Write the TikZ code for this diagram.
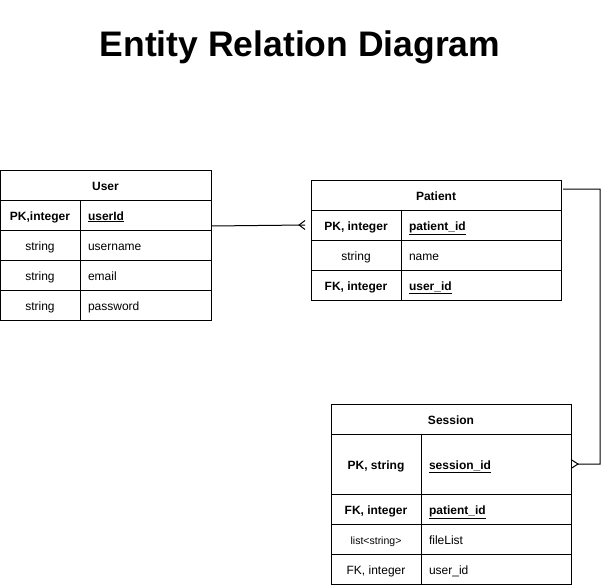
\documentclass[tikz,border=0pt]{standalone}
\usepackage{fontspec}
\setmainfont{Liberation Sans}
\usetikzlibrary{calc}
\begin{document}
\begin{tikzpicture}[x=1bp,y=-1bp,line width=1bp,
  cellbase/.style={draw=black,anchor=north west,inner ysep=0pt,outer sep=0pt,
    minimum height=30bp,text height=12bp,text depth=2bp,font=\fontsize{12bp}{14bp}\selectfont},
  headcell/.style={cellbase,inner xsep=0pt,align=center,font=\fontsize{12bp}{14bp}\selectfont\bfseries},
  keycell/.style={cellbase,inner xsep=0pt,align=center},
  namecell/.style={cellbase,inner xsep=8bp,align=left},
  conn/.style={draw=black,line width=1bp}]
\useasboundingbox (0,0) rectangle (609,585);

% title
\node[anchor=base,font=\fontsize{35.5bp}{40bp}\selectfont\bfseries] (title) at (300,57) {Entity Relation Diagram};

% User table
\node[headcell,minimum width=211bp] (u0) at (0,170) {User};
\node[keycell,minimum width=80bp] (u1k) at (0,200) {\bfseries PK,integer};
\node[namecell,text width=115bp] (u1) at (80,200) {\bfseries\underline{userId}};
\node[keycell,minimum width=80bp] (u2k) at (0,230) {string};
\node[namecell,text width=115bp] (u2) at (80,230) {username};
\node[keycell,minimum width=80bp] (u3k) at (0,260) {string};
\node[namecell,text width=115bp] (u3) at (80,260) {email};
\node[keycell,minimum width=80bp] (u4k) at (0,290) {string};
\node[namecell,text width=115bp] (u4) at (80,290) {password};

% Patient table
\node[headcell,minimum width=250bp] (p0) at (311,180) {Patient};
\node[keycell,minimum width=90bp] (p1k) at (311,210) {\bfseries PK, integer};
\node[namecell,text width=144bp] (p1) at (401,210) {\bfseries\underline{patient\_id}};
\node[keycell,minimum width=90bp] (p2k) at (311,240) {string};
\node[namecell,text width=144bp] (p2) at (401,240) {name};
\node[keycell,minimum width=90bp] (p3k) at (311,270) {\bfseries FK, integer};
\node[namecell,text width=144bp] (p3) at (401,270) {\bfseries\underline{user\_id}};

% Session table
\node[headcell,minimum width=240bp] (s0) at (331,404) {Session};
\node[keycell,minimum width=90bp,minimum height=60bp] (s1k) at (331,434) {\bfseries PK, string};
\node[namecell,text width=134bp,minimum height=60bp] (s1) at (421,434) {\bfseries\underline{session\_id}};
\node[keycell,minimum width=90bp] (s2k) at (331,494) {\bfseries FK, integer};
\node[namecell,text width=134bp] (s2) at (421,494) {\bfseries\underline{patient\_id}};
\node[keycell,minimum width=90bp,font=\fontsize{10.5bp}{12bp}\selectfont] (s3k) at (331,524) {list<string>};
\node[namecell,text width=134bp] (s3) at (421,524) {fileList};
\node[keycell,minimum width=90bp] (s4k) at (331,554) {FK, integer};
\node[namecell,text width=134bp] (s4) at (421,554) {user\_id};

% User -> Patient (many)
\coordinate (a1) at ($(u1.south east)+(0,-4)$);
\coordinate (a1v) at ($(p1k.west)+(-12,0)$);
\coordinate (a1e) at ($(p1k.west)+(-6,0)$);
\draw[conn] (a1) -- (a1e);
\draw[conn] ($(a1e)+(0,-4.5)$) -- (a1v) -- ($(a1e)+(0,4.5)$);

% Patient -> Session (many)
\coordinate (b0) at ($(p0.east)+(2,-6)$);
\coordinate (bend) at (600,189);
\coordinate (b1v) at ($(s1.east)+(7,0)$);
\draw[conn] (b0) -- (bend) |- (b1v);
\draw[conn] ($(s1.east)+(0,-4.5)$) -- (b1v) -- ($(s1.east)+(0,4.5)$);
\end{tikzpicture}
\end{document}
